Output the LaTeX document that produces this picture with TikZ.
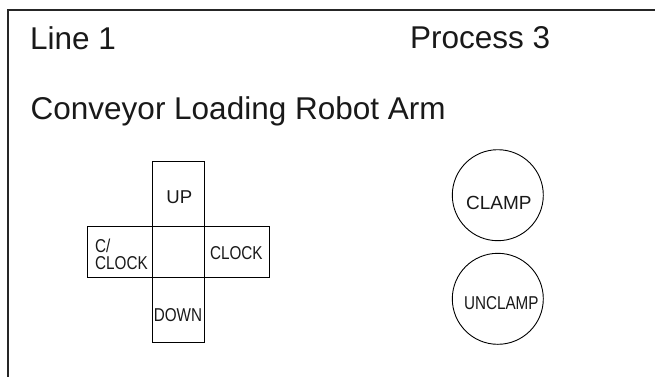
\documentclass[tikz,border=0pt]{standalone}
\usepackage{fontspec}
\setmainfont{Liberation Sans}
\newfontfamily\narrowfont{Liberation Sans}[FakeStretch=0.82]
\begin{document}
\begin{tikzpicture}[x=1pt,y=-1pt,
  frameline/.style={line width=1.3pt, draw=black!85},
  cell/.style={draw, line width=0.9pt, inner sep=0pt},
  title/.style={font=\fontsize{31.5}{36}\selectfont, anchor=base west, inner sep=0pt, text=black!90},
  lbl/.style={font=\fontsize{18.6}{16.7}\selectfont, inner sep=0pt, text=black!90},
  nlbl/.style={font=\narrowfont\fontsize{18.6}{16.7}\selectfont, inner sep=0pt, text=black!90},
  button/.style={draw, circle, line width=0.9pt, minimum size=91pt, inner sep=0pt}]
\useasboundingbox (0,0) rectangle (655,376);
% frame (left and top edges)
\coordinate (fbl) at (8,380);
\coordinate (fc) at (8,10);
\coordinate (ftr) at (660,10);
\draw[frameline] (fbl) -- (fc) -- (ftr);
% titles
\node[title] (line) at (30,49) {Line 1};
\node[title] (proc) at (410,48.5) {Process 3};
\node[title] (conv) at (30.5,119.3) {Conveyor Loading Robot Arm};
% cross of buttons
\node[cell, minimum width=51.3pt, minimum height=65pt] (up) at (178.35,194.2) {};
\node[cell, minimum width=51.3pt, minimum height=51pt] (mid) at (178.35,252.2) {};
\node[cell, minimum width=51.3pt, minimum height=65pt] (down) at (178.35,310.2) {};
\node[cell, minimum width=65.4pt, minimum height=51pt] (left) at (120,252.2) {};
\node[cell, minimum width=65pt, minimum height=51pt] (right) at (236.5,252.2) {};
\node[lbl] (tup) at (179.3,197) {UP};
\node[nlbl] (tclock) at (236.3,253.3) {CLOCK};
\node[nlbl, anchor=north west, align=left] (tcc) at (95,239.3) {C/\\CLOCK};
\node[nlbl] (tdown) at (178,315) {DOWN};
% round buttons
\node[button] (clamp) at (497.8,195.2) {};
\node[button] (unclamp) at (497.8,298.8) {};
\node[lbl, font=\fontsize{19}{22}\selectfont] (tclamp) at (498.8,203) {CLAMP};
\node[nlbl] (tunclamp) at (501.3,302.7) {UNCLAMP};
\end{tikzpicture}
\end{document}
